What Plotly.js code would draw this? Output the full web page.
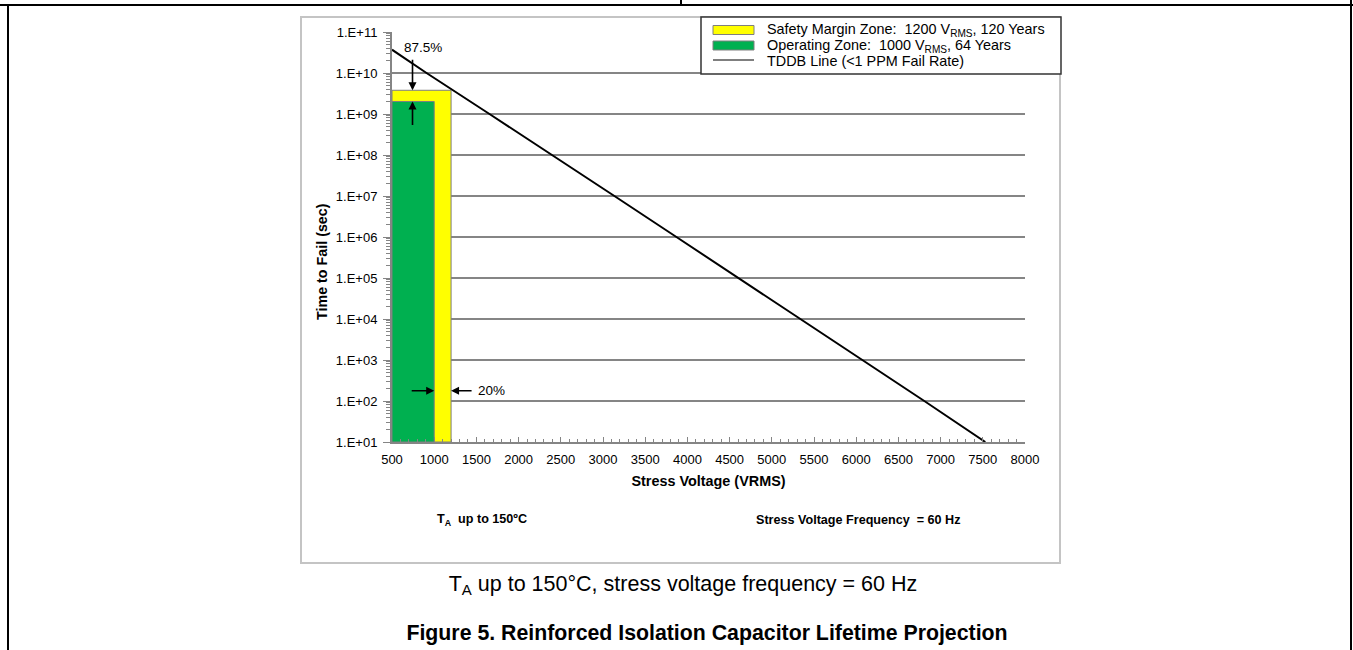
<!DOCTYPE html>
<html>
<head>
<meta charset="utf-8">
<script src="https://cdn.plot.ly/plotly-3.0.1.min.js"></script>
<style>
  html, body { margin:0; padding:0; background:#fff; }
  body { width:1353px; height:650px; position:relative; overflow:hidden; font-family:"Liberation Sans", Arial, sans-serif; }
  .ln { position:absolute; background:#000; }
  #box { position:absolute; left:300px; top:16px; width:761px; height:548px; border:2px solid #c4c4c4; box-sizing:border-box; }
  #chart { position:absolute; left:0; top:0; width:1353px; height:650px; }
  .cap { position:absolute; text-align:center; line-height:1; color:#000; white-space:nowrap; }
</style>
</head>
<body>
<div class="ln" style="left:0;top:4px;width:1353px;height:1.5px;"></div>
<div class="ln" style="left:680px;top:0;width:1.5px;height:5px;"></div>
<div class="ln" style="left:7px;top:4px;width:1.5px;height:646px;"></div>
<div class="ln" style="left:1350px;top:0;width:1.5px;height:650px;"></div>
<div id="box"></div>
<div id="chart"></div>
<div class="cap" style="left:283px;width:800px;top:574px;font-size:21.5px;">T<sub style="font-size:15px;vertical-align:-4px;">A</sub> up to 150°C, stress voltage frequency = 60 Hz</div>
<div class="cap" style="left:307px;width:800px;top:623px;font-size:21.3px;font-weight:bold;">Figure 5. Reinforced Isolation Capacitor Lifetime Projection</div>
<script>
// ---- data ----
const tddbVoltage = [500, 909, 1655, 2401, 3135, 3870, 4604, 5350, 6085, 6807, 7530];
const tddbTime    = [3.7e10, 1e10, 1e9, 1e8, 1e7, 1e6, 1e5, 1e4, 1e3, 1e2, 1e1];
const zoneNames   = ['Safety Margin Zone:&nbsp; 1200 V<sub>RMS</sub>, 120 Years',
                     'Operating Zone:&nbsp; 1000 V<sub>RMS</sub>, 64 Years'];
const zoneVoltage = [1200, 1000];
const zoneTime    = [3.79e9, 2.02e9];   // 120 years, 64 years in seconds
const zoneColors  = ['#ffff00', '#00b050'];
const zoneStartV  = 500;
const zoneBaseT   = 10;
const lineName    = 'TDDB Line (&lt;1 PPM Fail Rate)';
const yTickVals   = [1e1, 1e2, 1e3, 1e4, 1e5, 1e6, 1e7, 1e8, 1e9, 1e10, 1e11];
const yTickText   = ['1.E+01','1.E+02','1.E+03','1.E+04','1.E+05','1.E+06','1.E+07','1.E+08','1.E+09','1.E+10','1.E+11'];
const xTickVals   = [500,1000,1500,2000,2500,3000,3500,4000,4500,5000,5500,6000,6500,7000,7500,8000];

const FONT = '"Liberation Sans", Arial, sans-serif';

const traces = [];
zoneNames.forEach((nm, i) => {
  traces.push({
    type: 'scatter', mode: 'lines', name: nm,
    x: [zoneStartV, zoneStartV, zoneVoltage[i], zoneVoltage[i], zoneStartV],
    y: [zoneBaseT, zoneTime[i], zoneTime[i], zoneBaseT, zoneBaseT],
    fill: 'toself', fillcolor: zoneColors[i],
    line: { color: '#7f7f7f', width: 1 },
    hoverinfo: 'skip', showlegend: false
  });
});
traces.push({
  type: 'scatter', mode: 'lines', name: lineName,
  x: tddbVoltage, y: tddbTime,
  line: { color: '#000', width: 2 }, showlegend: false
});

// plot area geometry in page pixels
const L = 392, R = 1025, T = 32, B = 442;
const W = R - L, H = B - T;
const px = v => (v - L) / W;
const py = v => (B - v) / H;

const gridShapes = yTickVals.slice(1, -1).map((v, k) => ({
  type: 'line', xref: 'paper', yref: 'paper', x0: 0, x1: 1,
  y0: (k + 1) / 10, y1: (k + 1) / 10,
  line: { color: '#858585', width: 2 }, layer: 'below'
}));

// custom legend (box, swatches, labels)
const legRows = [30, 45.5, 61];
const legendShapes = [
  { type: 'rect', xref: 'paper', yref: 'paper', x0: px(701), x1: px(1061), y0: py(74), y1: py(17),
    fillcolor: '#fff', line: { color: '#333', width: 1.5 }, layer: 'above' },
  { type: 'rect', xref: 'paper', yref: 'paper', x0: px(713), x1: px(754), y0: py(legRows[0] + 4.5), y1: py(legRows[0] - 4.5),
    fillcolor: zoneColors[0], line: { color: '#7f7f7f', width: 1 }, layer: 'above' },
  { type: 'rect', xref: 'paper', yref: 'paper', x0: px(713), x1: px(754), y0: py(legRows[1] + 4.5), y1: py(legRows[1] - 4.5),
    fillcolor: zoneColors[1], line: { color: '#7f7f7f', width: 1 }, layer: 'above' },
  { type: 'line', xref: 'paper', yref: 'paper', x0: px(713), x1: px(754), y0: py(legRows[2] - 1), y1: py(legRows[2] - 1),
    line: { color: '#000', width: 1.2 }, layer: 'above' }
];
const legendTexts = [zoneNames[0], zoneNames[1], lineName].map((t, i) => ({
  text: t, xref: 'paper', yref: 'paper', x: px(765), y: py(legRows[i]),
  xanchor: 'left', yanchor: 'middle', showarrow: false,
  font: { family: FONT, size: 14.4, color: '#000' }
}));

const yArrow = 2.25;
const annotations = [
  { text: '87.5%', xref: 'x', yref: 'y', x: 618, y: 10.625, xanchor: 'left', yanchor: 'middle',
    showarrow: false, font: { family: FONT, size: 13.5, color: '#000' } },
  { text: '', xref: 'x', yref: 'y', x: 743, y: Math.log10(zoneTime[0]), ax: 0, ay: -32,
    showarrow: true, arrowhead: 2, arrowsize: 1, arrowwidth: 1.6, arrowcolor: '#000', standoff: 0 },
  { text: '', xref: 'x', yref: 'y', x: 743, y: Math.log10(zoneTime[1]), ax: 0, ay: 25,
    showarrow: true, arrowhead: 2, arrowsize: 1, arrowwidth: 1.6, arrowcolor: '#000', standoff: 0 },
  { text: '', xref: 'x', yref: 'y', x: zoneVoltage[1], y: yArrow, ax: -24, ay: 0,
    showarrow: true, arrowhead: 2, arrowsize: 1, arrowwidth: 1.6, arrowcolor: '#000', standoff: 0 },
  { text: '', xref: 'x', yref: 'y', x: zoneVoltage[0], y: yArrow, ax: 22, ay: 0,
    showarrow: true, arrowhead: 2, arrowsize: 1, arrowwidth: 1.6, arrowcolor: '#000', standoff: 0 },
  { text: '20%', xref: 'x', yref: 'y', x: 1490, y: yArrow, xanchor: 'left', yanchor: 'middle',
    showarrow: false, font: { family: FONT, size: 13.5, color: '#000' } },
  { text: '<b>Time to Fail (sec)</b>', xref: 'paper', yref: 'paper', x: px(322), y: py(262),
    textangle: -90, showarrow: false, xanchor: 'center', yanchor: 'middle',
    font: { family: FONT, size: 14.3, color: '#000' } },
  { text: '<b>T<sub>A</sub>&nbsp; up to 150ºC</b>', xref: 'paper', yref: 'paper', x: px(435), y: py(520),
    showarrow: false, xanchor: 'left', yanchor: 'middle',
    font: { family: FONT, size: 12.6, color: '#000' } },
  { text: '<b>Stress Voltage Frequency&nbsp; = 60 Hz</b>', xref: 'paper', yref: 'paper', x: px(754), y: py(520),
    showarrow: false, xanchor: 'left', yanchor: 'middle',
    font: { family: FONT, size: 12.6, color: '#000' } }
].concat(legendTexts);

const layout = {
  width: 1353, height: 650,
  margin: { l: L, r: 1353 - R, t: T, b: 650 - B, pad: 0 },
  paper_bgcolor: 'rgba(0,0,0,0)', plot_bgcolor: 'rgba(0,0,0,0)',
  font: { family: FONT, size: 13, color: '#000' },
  showlegend: false,
  xaxis: {
    range: [500, 8000], type: 'linear',
    tickvals: xTickVals, tickformat: 'd',
    showgrid: false, zeroline: false,
    showline: true, linecolor: '#858585', linewidth: 2,
    ticks: 'inside', ticklen: 5, tickwidth: 1, tickcolor: '#858585',
    minor: { dtick: 100, ticks: 'inside', ticklen: 3, tickcolor: '#858585', tickwidth: 1, showgrid: false },
    tickfont: { family: FONT, size: 13, color: '#000' },
    ticklabelstandoff: 4,
    title: { text: '<b>Stress Voltage (VRMS)</b>', standoff: 10, font: { family: FONT, size: 14.4, color: '#000' } }
  },
  yaxis: {
    type: 'log', range: [1, 11],
    tickvals: yTickVals, ticktext: yTickText,
    showgrid: false, zeroline: false,
    showline: true, linecolor: '#858585', linewidth: 2,
    ticks: 'outside', ticklen: 7, tickwidth: 1, tickcolor: '#858585',
    minor: { dtick: 'D1', ticks: 'outside', ticklen: 4, tickcolor: '#858585', tickwidth: 1, showgrid: false },
    tickfont: { family: FONT, size: 13, color: '#000' },
    ticklabelstandoff: 3
  },
  shapes: gridShapes.concat(legendShapes),
  annotations: annotations
};

Plotly.newPlot('chart', traces, layout, { displayModeBar: false, staticPlot: true });
</script>
</body>
</html>
